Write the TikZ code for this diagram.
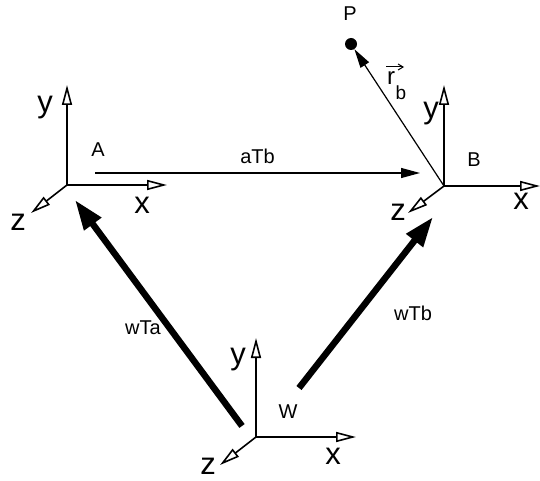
\documentclass[tikz,border=0pt]{standalone}
\usepackage{fontspec}
\setmainfont{Liberation Sans}
\usetikzlibrary{arrows.meta,positioning,calc}

\begin{document}
\begin{tikzpicture}[x=1pt,y=-1pt,>=Latex,
 axis/.style={-{Triangle[open,length=20pt,width=10pt]},line width=1.6pt},
 thin/.style={-{Triangle[length=19pt,width=10pt]},line width=1.2pt},
 xform/.style={-{Triangle[length=30pt,width=20pt]},line width=6.5pt},
 big/.style={font=\fontsize{31}{31}\selectfont,inner sep=0pt},
 small/.style={font=\fontsize{20}{20}\selectfont,inner sep=0pt}]
\useasboundingbox (0,0) rectangle (540,481);
% frame A
\coordinate (oa) at (67,185);
\coordinate (oax) at (167,185);
\coordinate (oay) at (67,85);
\coordinate (oaz) at (31,213);
\draw[axis] (oa)--(oax);
\draw[axis] (oa)--(oay);
\draw[axis] (oa)--(oaz);
\node[big] (ya) at (45,108) {y};
\node[big] (xa) at (142,205) {x};
\node[big] (za) at (18,222) {z};
\node[small] (la) at (98,150) {A};
% frame B
\coordinate (ob) at (444,186);
\coordinate (obx) at (540,186);
\coordinate (oby) at (444,85);
\coordinate (obz) at (408,213);
\draw[axis] (ob)--(obx);
\draw[axis] (ob)--(oby);
\draw[axis] (ob)--(obz);
\node[big] (yb) at (431,114) {y};
\node[big] (xb) at (521,201) {x};
\node[big] (zb) at (398,212) {z};
\node[small] (lb) at (474,160) {B};
% frame W
\coordinate (ow) at (256,437);
\coordinate (owx) at (356,437);
\coordinate (owy) at (256,338);
\coordinate (owz) at (220,465);
\draw[axis] (ow)--(owx);
\draw[axis] (ow)--(owy);
\draw[axis] (ow)--(owz);
\node[big] (yw) at (238,360) {y};
\node[big] (xw) at (333,456) {x};
\node[big] (zw) at (208,466) {z};
\node[small] (lw) at (288,412) {W};
% point P and r_b
\node[circle,fill,inner sep=0pt,minimum size=12pt] (p) at (351,44) {};
\node[small] (lp) at (350,14) {P};
\draw[thin] (ob)--(p);
\node[inner sep=0pt,font=\fontsize{24}{24}\selectfont] (rv) at (391,78) {r};
\node[inner sep=0pt,font=\fontsize{19}{19}\selectfont] (rs) at (401,93) {b};
\coordinate (rv0) at (386,67);
\coordinate (rv1) at (404,67);
\draw[-{Straight Barb[length=5pt,width=6pt]},line width=1pt] (rv0)--(rv1);
% transforms
\coordinate (ta0) at (95,173);
\coordinate (ta1) at (420,173);
\draw[thin] (ta0)--node[small,above=9pt]{aTb}(ta1);
\coordinate (wa0) at (242,426);
\coordinate (wa1) at (75,200);
\draw[xform] (wa0)--(wa1);
\node[small] (lwa) at (143,328) {wTa};
\coordinate (wb0) at (299,388);
\coordinate (wb1) at (433,217);
\draw[xform] (wb0)--(wb1);
\node[small] (lwb) at (413,313) {wTb};
\end{tikzpicture}
\end{document}
